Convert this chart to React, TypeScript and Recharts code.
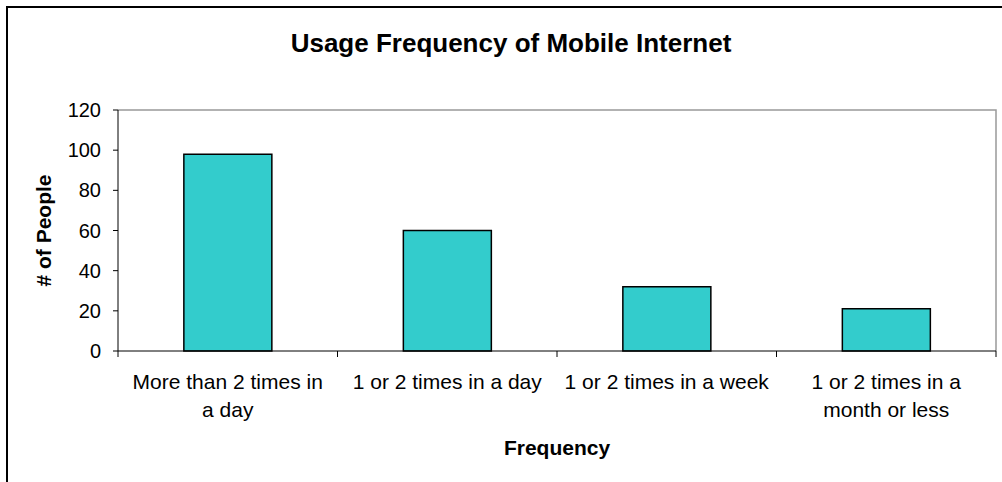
import React from 'react';
import { BarChart, Bar, XAxis, YAxis, ReferenceArea } from 'recharts';

const categories = [
  'More than 2 times in\na day',
  '1 or 2 times in a day',
  '1 or 2 times in a week',
  '1 or 2 times in a\nmonth or less',
];
const people = [98, 60, 32, 21];
const yTicks = [0, 20, 40, 60, 80, 100, 120];

const data = categories.map((name, i) => ({ name, people: people[i] }));

const FONT = '"Liberation Sans", Arial, sans-serif';
const LABEL_GAP = 23;
const BORDER = '#999';

// category labels, plus Excel-style tick marks on the category boundaries
const CategoryTick = ({ x, y, payload, index, visibleTicksCount }: any) => {
  const lines = String(payload.value).split('\n');
  const axisY = y - LABEL_GAP;
  const half = payload.offset || 0;
  const last = index === visibleTicksCount - 1;
  return (
    <g>
      <line x1={x - half} x2={x - half} y1={axisY} y2={axisY + 6} stroke="#000" />
      {last && <line x1={x + half} x2={x + half} y1={axisY} y2={axisY + 6} stroke="#000" />}
      <text x={x} y={y} textAnchor="middle" fill="#000" fontSize={21} fontFamily={FONT}>
        {lines.map((line, i) => (
          <tspan key={i} x={x} dy={i === 0 ? '0.71em' : 28}>
            {line}
          </tspan>
        ))}
      </text>
    </g>
  );
};

// grey top and right edges of the plot area, drawn from the area's box
const PlotBorder = ({ viewBox }: any) => {
  const { x, y, width, height } = viewBox;
  return (
    <path
      d={`M${x},${y}H${x + width}V${y + height}`}
      fill="none"
      stroke={BORDER}
      strokeWidth={1.5}
    />
  );
};

const YTitle = ({ viewBox }: any) => {
  const cx = viewBox.x + 43;
  const cy = viewBox.y + viewBox.height / 2;
  return (
    <text
      x={cx}
      y={cy}
      transform={`rotate(-90 ${cx} ${cy})`}
      textAnchor="middle"
      dominantBaseline="central"
      fontSize={21}
      fontWeight="bold"
      fontFamily={FONT}
      fill="#000"
    >
      # of People
    </text>
  );
};

const XTitle = ({ viewBox }: any) => (
  <text
    x={viewBox.x + viewBox.width / 2}
    y={viewBox.y + 104}
    textAnchor="middle"
    fontSize={21}
    fontWeight="bold"
    fontFamily={FONT}
    fill="#000"
  >
    Frequency
  </text>
);

export default function App() {
  return (
    <div
      style={{
        position: 'absolute',
        left: 0,
        top: 0,
        width: 1002,
        height: 482,
        overflow: 'hidden',
        background: '#fff',
        fontFamily: FONT,
      }}
    >
      <div
        style={{
          position: 'absolute',
          left: 6,
          top: 6,
          width: 1040,
          height: 520,
          border: '2px solid #000',
        }}
      />
      <div
        style={{
          position: 'absolute',
          left: 20,
          top: 30,
          width: 982,
          textAlign: 'center',
          fontSize: 26,
          lineHeight: '26px',
          fontWeight: 'bold',
          color: '#000',
        }}
      >
        Usage Frequency of Mobile Internet
      </div>
      <div style={{ position: 'absolute', left: 0, top: 0 }}>
        <BarChart
          width={1002}
          height={482}
          data={data}
          margin={{ top: 110, right: 6, bottom: 0, left: 0 }}
          barCategoryGap="30%"
        >
          <ReferenceArea
            y1={0}
            y2={120}
            fill="none"
            fillOpacity={0}
            stroke="none"
            label={<PlotBorder />}
          />
          <XAxis
            dataKey="name"
            height={131}
            interval={0}
            tickLine={false}
            tickSize={0}
            tickMargin={LABEL_GAP}
            tick={<CategoryTick />}
            axisLine={{ stroke: '#000', strokeWidth: 1 }}
            label={<XTitle />}
          />
          <YAxis
            domain={[0, 120]}
            ticks={yTicks}
            width={118}
            tickSize={5}
            tickMargin={12}
            interval={0}
            tick={{ fill: '#000', fontSize: 20, fontFamily: FONT }}
            tickLine={{ stroke: '#000' }}
            axisLine={{ stroke: '#000' }}
            label={<YTitle />}
          />
          <Bar
            dataKey="people"
            fill="#33CCCC"
            stroke="#000"
            strokeWidth={1.5}
            isAnimationActive={false}
          />
        </BarChart>
      </div>
    </div>
  );
}
